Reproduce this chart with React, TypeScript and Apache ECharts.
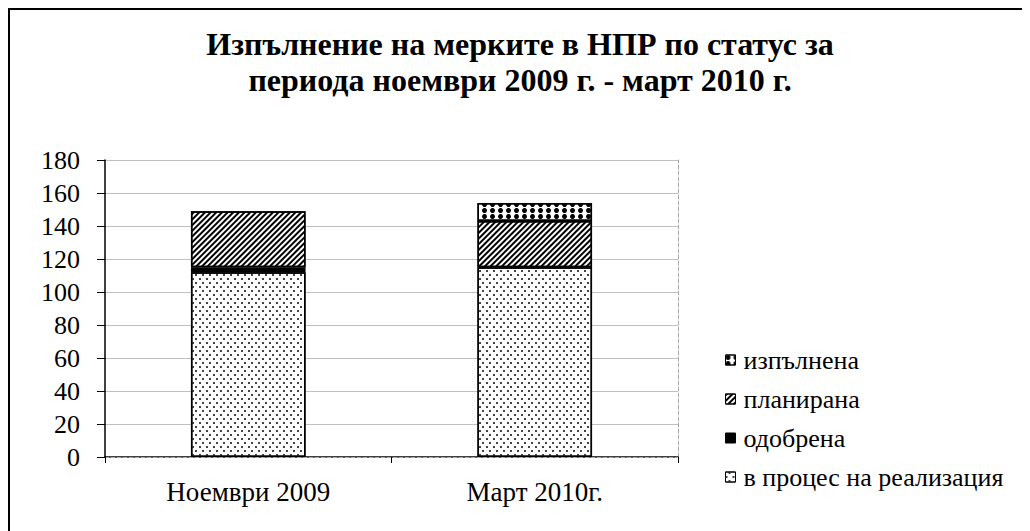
import React, { useEffect, useRef } from "react";
import * as echarts from "echarts";

const categories = ["Ноември 2009", "Март 2010г."];
const inProgress = [112, 115];
const approved = [3, 0];
const planned = [34, 28];
const completed = [0, 11];
const yTicks = [0, 20, 40, 60, 80, 100, 120, 140, 160, 180];

const titleText = "Изпълнение на мерките в НПР по статус за\nпериода ноември 2009 г. - март 2010 г.";
const FONT = "Liberation Serif";

const nz = (arr: number[]) => arr.map((v) => (v === 0 ? "-" : v));

export default function App() {
  const ref = useRef<HTMLDivElement>(null);
  useEffect(() => {
    if (!ref.current) return;
    const chart = echarts.init(ref.current, null, { renderer: "svg" });
    const border = { borderColor: "#000", borderWidth: 1.5 };
    chart.setOption({
      animation: false,
      backgroundColor: "#fff",
      textStyle: { fontFamily: FONT, color: "#000" },
      title: {
        text: titleText,
        left: "center",
        top: 11,
        textStyle: { fontFamily: FONT, fontWeight: "bold", fontSize: 32, lineHeight: 36, color: "#000" },
      },
      legend: {
        orient: "vertical",
        left: 715,
        top: 337,
        padding: 0,
        icon: "rect",
        itemWidth: 10,
        itemHeight: 10,
        itemGap: 13,
        itemStyle: { borderColor: "#000", borderWidth: 1 },
        data: ["изпълнена", "планирана", "одобрена", "в процес на реализация"],
        textStyle: { fontFamily: FONT, fontSize: 26, lineHeight: 26, color: "#000", padding: [0, 0, 0, 3] },
      },
      grid: { left: 95, right: 352, top: 150, bottom: 74 },
      xAxis: [
        {
          type: "category",
          data: categories,
          axisLine: { lineStyle: { color: "#000", width: 1.5 } },
          axisTick: { show: true, length: 6, lineStyle: { color: "#000" } },
          axisLabel: { fontFamily: FONT, fontSize: 27, color: "#000", margin: 21 },
        },
        {
          type: "category",
          data: categories,
          position: "top",
          axisLine: { lineStyle: { color: "#aaa", type: "dashed" } },
          axisTick: { show: false },
          axisLabel: { show: false },
        },
      ],
      yAxis: [
        {
          type: "value",
          min: yTicks[0],
          max: yTicks[yTicks.length - 1],
          interval: 20,
          axisLine: { show: true, lineStyle: { color: "#000", width: 1.5 } },
          axisTick: { show: true, length: 8, lineStyle: { color: "#000" } },
          axisLabel: { fontFamily: FONT, fontSize: 26, color: "#000", margin: 25 },
          splitLine: { lineStyle: { color: "#c0c0c0", width: 1 } },
        },
        {
          type: "value",
          position: "right",
          min: yTicks[0],
          max: yTicks[yTicks.length - 1],
          interval: 20,
          axisLine: { show: true, lineStyle: { color: "#aaa", type: "dashed" } },
          axisTick: { show: false },
          axisLabel: { show: false },
          splitLine: { show: false },
        },
      ],
      series: [
        {
          name: "в процес на реализация",
          type: "bar",
          stack: "s",
          barWidth: "40%",
          data: nz(inProgress),
          itemStyle: {
            color: "#fff",
            ...border,
            decal: {
              symbol: "rect",
              symbolSize: 1,
              color: "#444",
              dashArrayX: [[1.5, 4.5], [0, 3, 1.5, 1.5]],
              dashArrayY: [1.5, 2],
              rotation: 0,
            },
          },
        },
        {
          name: "одобрена",
          type: "bar",
          stack: "s",
          data: nz(approved),
          itemStyle: { color: "#000", ...border },
        },
        {
          name: "планирана",
          type: "bar",
          stack: "s",
          data: nz(planned),
          itemStyle: {
            color: "#fff",
            ...border,
            decal: {
              symbol: "rect",
              symbolSize: 1,
              color: "#000",
              dashArrayX: [[1, 0]],
              dashArrayY: [2, 2],
              rotation: -Math.PI / 4,
            },
          },
        },
        {
          name: "изпълнена",
          type: "bar",
          stack: "s",
          data: nz(completed),
          itemStyle: {
            color: "#fff",
            ...border,
            decal: {
              symbol: "circle",
              symbolSize: 1,
              color: "#000",
              dashArrayX: [[5, 3]],
              dashArrayY: [5, 1],
              rotation: 0,
            },
          },
        },
      ],
    });
    return () => chart.dispose();
  }, []);
  return (
    <div style={{ width: 1020, height: 521, borderTop: "2px solid #000", borderLeft: "2px solid #000" }}>
      <div ref={ref} style={{ width: 1020, height: 521 }} />
    </div>
  );
}
